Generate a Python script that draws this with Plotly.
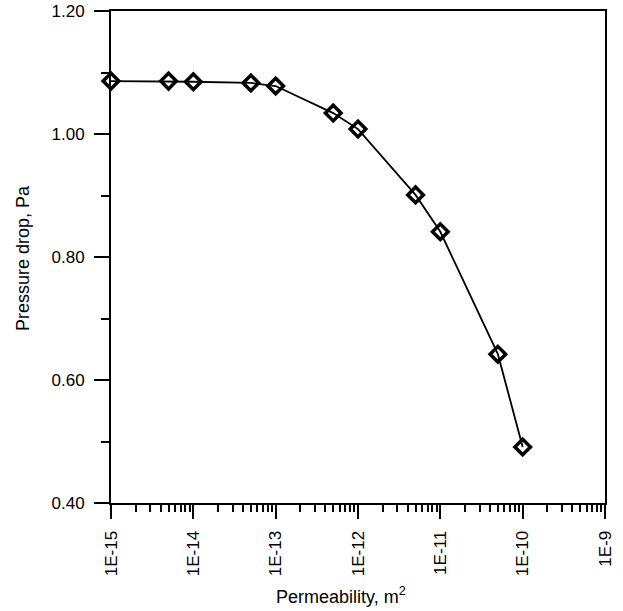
import plotly.graph_objects as go

permeability = [1e-15, 5e-15, 1e-14, 5e-14, 1e-13, 5e-13, 1e-12, 5e-12, 1e-11, 5e-11, 1e-10]
pressure_drop = [1.086, 1.086, 1.085, 1.083, 1.078, 1.034, 1.008, 0.901, 0.841, 0.642, 0.491]

x_tickvals = [1e-15, 1e-14, 1e-13, 1e-12, 1e-11, 1e-10, 1e-9]
x_ticktext = ["1E-15", "1E-14", "1E-13", "1E-12", "1E-11", "1E-10", "1E-9"]
y_tickvals = [0.40, 0.60, 0.80, 1.00, 1.20]
y_ticktext = ["0.40", "0.60", "0.80", "1.00", "1.20"]

x_minor = [m * 10.0 ** e for e in range(-15, -9) for m in range(2, 10)]
y_minor = [0.5, 0.7, 0.9, 1.1]

x_title = "Permeability, m<sup>2</sup>"
y_title = "Pressure drop, Pa"

fig = go.Figure()
fig.add_trace(go.Scatter(
    x=permeability, y=pressure_drop, mode="lines+markers",
    line=dict(color="black", width=1.8),
    marker=dict(symbol="diamond-open", size=12, color="black", line=dict(color="black", width=3.5)),
    cliponaxis=False,
))

font = "Liberation Sans, Arial, sans-serif"
fig.update_layout(
    width=623, height=611,
    margin=dict(l=111, r=18, t=11, b=108, autoexpand=False),
    paper_bgcolor="white", plot_bgcolor="white",
    showlegend=False,
    font=dict(family=font, color="black", size=17),
    xaxis=dict(
        type="log", range=[-15, -9], automargin=False,
        tickmode="array", tickvals=x_tickvals, ticktext=x_ticktext,
        tickangle=-90, ticks="outside", ticklen=14, tickwidth=2, tickcolor="black",
        ticklabelstandoff=5,
        minor=dict(tickmode="array", tickvals=x_minor, ticks="outside", ticklen=7, tickwidth=2, tickcolor="black"),
        showline=True, linewidth=2, linecolor="black", mirror=True,
        showgrid=False, zeroline=False,
        tickfont=dict(size=17),
    ),
    yaxis=dict(
        range=[0.40, 1.20], automargin=False,
        tickmode="array", tickvals=y_tickvals, ticktext=y_ticktext,
        ticks="outside", ticklen=15, tickwidth=2, tickcolor="black",
        ticklabelstandoff=6,
        minor=dict(tickmode="array", tickvals=y_minor, ticks="outside", ticklen=8, tickwidth=2, tickcolor="black"),
        showline=True, linewidth=2, linecolor="black", mirror=True,
        showgrid=False, zeroline=False,
        tickfont=dict(size=17),
    ),
    annotations=[
        dict(text=x_title, xref="paper", yref="paper", x=0.4656, y=-0.189,
             xanchor="center", yanchor="middle", showarrow=False, font=dict(size=18)),
        dict(text=y_title, xref="paper", yref="paper", x=-0.178, y=0.498, textangle=-90,
             xanchor="center", yanchor="middle", showarrow=False, font=dict(size=18)),
    ],
)

fig.write_html("out.html", config={"displayModeBar": False},
               post_script="document.body.style.margin='0';document.body.style.overflow='hidden';")
